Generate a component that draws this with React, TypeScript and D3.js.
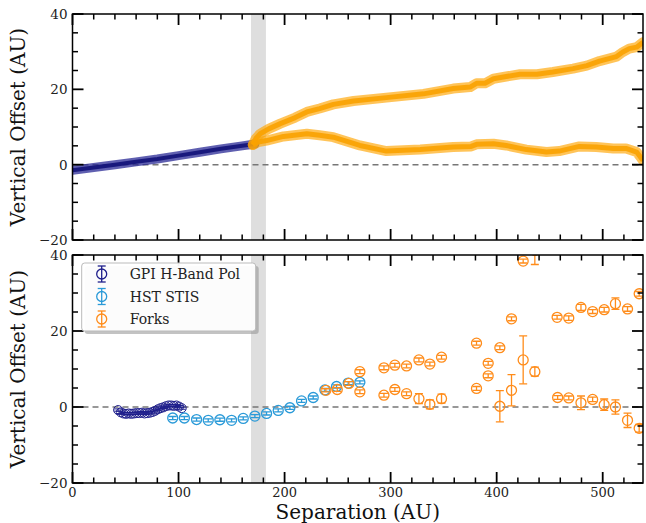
import React from "react";
import * as d3 from "d3";

// ---------- DATA ----------
const blueLineX = [0, 20, 40, 60, 80, 100, 120, 140, 160, 172];
const blueLineY = [-1.5, -0.75, 0.0, 0.75, 1.5, 2.4, 3.3, 4.2, 5.0, 5.5];

const forkUpperX = [170, 173, 177, 185, 196, 210, 221, 233, 246, 265, 296, 331, 359, 375, 381, 389, 397, 409, 422, 438, 453, 472, 485, 497, 513, 519, 525, 532, 538];
const forkUpperY = [5.3, 7.0, 8.2, 9.5, 10.9, 12.5, 14.0, 14.9, 16.0, 16.9, 17.8, 18.8, 20.2, 20.6, 21.6, 21.6, 22.8, 23.4, 24.0, 24.0, 24.6, 25.5, 26.3, 27.5, 28.7, 29.9, 30.8, 31.2, 32.5];

const forkLowerX = [170, 175, 183, 199, 221, 233, 246, 271, 296, 328, 359, 376, 381, 397, 409, 428, 447, 459, 478, 494, 510, 522, 532, 538];
const forkLowerY = [5.2, 6.0, 6.4, 7.5, 8.2, 7.8, 7.3, 5.1, 3.6, 4.0, 4.7, 4.85, 5.4, 5.57, 5.1, 4.0, 3.35, 3.6, 4.85, 4.7, 4.3, 4.3, 3.35, 1.1];

const gpiX = [43, 45.5, 48, 50.5, 53, 55.5, 58, 60.5, 63, 65.5, 68, 70.5, 73, 75.5, 78, 80.5, 83, 85.5, 88, 90.5, 93, 95.5, 98, 100.5, 103];
const gpiY = [-0.8, -1.4, -1.7, -1.8, -1.7, -1.8, -1.7, -1.6, -1.6, -1.5, -1.7, -1.6, -1.5, -1.3, -1.0, -0.6, -0.3, -0.1, 0.2, 0.4, 0.4, 0.3, 0.4, 0.1, -0.3];
const gpiErr = [0.3, 0.3, 0.3, 0.3, 0.3, 0.3, 0.3, 0.3, 0.3, 0.3, 0.3, 0.3, 0.3, 0.3, 0.3, 0.3, 0.3, 0.3, 0.3, 0.3, 0.3, 0.3, 0.3, 0.3, 0.3];

const stisX = [94.5, 105.5, 117, 128, 139, 150, 161, 172, 183, 194, 205, 216, 227, 238, 249, 260, 271];
const stisY = [-2.9, -2.9, -3.3, -3.5, -3.35, -3.5, -3.0, -2.4, -1.7, -0.9, -0.2, 1.6, 2.5, 4.5, 5.4, 6.3, 6.5];
const stisErr = [0.4, 0.4, 0.4, 0.4, 0.4, 0.4, 0.4, 0.4, 0.4, 0.4, 0.4, 0.4, 0.4, 0.4, 0.4, 0.4, 0.4];

const forksX = [239, 249.7, 260.7, 271, 271, 293.7, 293.7, 304, 304, 315, 315, 326.7, 326.7, 337, 337, 348, 348, 381, 381, 392, 392, 403, 403, 414, 414, 425, 425, 436, 436, 457, 457.5, 468, 468, 479.5, 479.5, 490.5, 490.5, 501.4, 501.4, 512, 512, 523.4, 523.4, 534.4, 534.4];
const forksY = [4.4, 4.6, 6.2, 9.3, 4.0, 10.3, 3.1, 11.0, 4.6, 10.8, 3.5, 12.4, 2.2, 11.3, 0.7, 13.1, 2.2, 16.8, 4.9, 11.5, 8.2, 15.6, 0.2, 23.2, 4.4, 38.4, 12.4, 41.2, 9.3, 23.6, 2.5, 23.4, 2.4, 26.2, 1.1, 25.1, 2.0, 25.6, 0.6, 27.2, 0.0, 25.8, -3.5, 29.8, -5.6];
const forksErr = [0.4, 0.5, 0.5, 0.5, 0.5, 0.5, 0.5, 0.5, 0.5, 0.5, 0.5, 0.5, 1.3, 0.5, 1.2, 0.5, 1.2, 0.5, 0.5, 0.5, 0.5, 0.5, 4.1, 0.5, 4.1, 0.5, 6.3, 3.7, 1.2, 0.5, 0.5, 0.6, 0.5, 0.8, 1.8, 0.5, 0.6, 0.6, 1.5, 1.5, 1.9, 0.6, 1.9, 0.6, 1.0];

const xTicksMajor = [0, 100, 200, 300, 400, 500];
const yTicksMajor = [-20, 0, 20, 40];
const bandRange = [168.3, 182.4];

const legendLabels = ["GPI H-Band Pol", "HST STIS", "Forks"];

// ---------- STYLE ----------
const W = 646, H = 523;
const L = 72.5, R = 643;
const top1 = 14, bot1 = 240, top2 = 255, bot2 = 483;
const FONT = '"DejaVu Serif", "Liberation Serif", serif';
const C_GPI = "#1f1f8c";
const C_STIS = "#2a9ad8";
const C_FORK = "#ff8c1a";

const x = d3.scaleLinear().domain([0, 538]).range([L, R]);
const yTop = d3.scaleLinear().domain([-20, 40]).range([bot1, top1]);
const yBot = d3.scaleLinear().domain([-20, 40]).range([bot2, top2]);

const fmt = (v: number) => (v < 0 ? "\u2212" + Math.abs(v) : String(v));
const txtStyle = (size: number) => ({ fontFamily: FONT, fontSize: size + "px" });

function Axes({ y, top, bot, showX }: { y: d3.ScaleLinear<number, number>; top: number; bot: number; showX: boolean }) {
  const xMinor = d3.range(0, 539, 20).filter((v) => v % 100 !== 0);
  const yMinor = d3.range(-20, 41, 5).filter((v) => v % 20 !== 0);
  const els: React.ReactNode[] = [];
  xTicksMajor.forEach((v, i) => {
    const px = x(v);
    els.push(<line key={"xb" + i} x1={px} x2={px} y1={bot} y2={bot - 11} stroke="#000" strokeWidth={1.8} />);
    els.push(<line key={"xt" + i} x1={px} x2={px} y1={top} y2={top + 11} stroke="#000" strokeWidth={1.8} />);
    if (showX)
      els.push(
        <text key={"xl" + i} x={px} y={bot + 14} textAnchor="middle" style={txtStyle(13)} fill="#222">
          {fmt(v)}
        </text>
      );
  });
  xMinor.forEach((v, i) => {
    const px = x(v);
    els.push(<line key={"xmb" + i} x1={px} x2={px} y1={bot} y2={bot - 5.5} stroke="#000" strokeWidth={1.5} />);
    els.push(<line key={"xmt" + i} x1={px} x2={px} y1={top} y2={top + 5.5} stroke="#000" strokeWidth={1.5} />);
  });
  yTicksMajor.forEach((v, i) => {
    const py = y(v);
    els.push(<line key={"yl" + i} x1={L} x2={L + 11} y1={py} y2={py} stroke="#000" strokeWidth={1.8} />);
    els.push(<line key={"yr" + i} x1={R} x2={R - 11} y1={py} y2={py} stroke="#000" strokeWidth={1.8} />);
    els.push(
      <text key={"ylab" + i} x={L - 5} y={py + 5} textAnchor="end" style={txtStyle(13.5)} fill="#222">
        {fmt(v)}
      </text>
    );
  });
  yMinor.forEach((v, i) => {
    const py = y(v);
    els.push(<line key={"yml" + i} x1={L} x2={L + 5.5} y1={py} y2={py} stroke="#000" strokeWidth={1.5} />);
    els.push(<line key={"ymr" + i} x1={R} x2={R - 5.5} y1={py} y2={py} stroke="#000" strokeWidth={1.5} />);
  });
  els.push(<rect key="frame" x={L} y={top} width={R - L} height={bot - top} fill="none" stroke="#000" strokeWidth={1.5} />);
  return <g>{els}</g>;
}

function ErrPoints({ xs, ys, es, y, color, r, sw }: { xs: number[]; ys: number[]; es: number[]; y: d3.ScaleLinear<number, number>; color: string; r: number; sw: number }) {
  return (
    <g stroke={color} strokeWidth={sw} fill="none">
      {xs.map((xv, i) => {
        const px = x(xv);
        const y1 = y(ys[i] - es[i]);
        const y2 = y(ys[i] + es[i]);
        return (
          <g key={i}>
            <line x1={px} x2={px} y1={y1} y2={y2} />
            <line x1={px - 4} x2={px + 4} y1={y1} y2={y1} />
            <line x1={px - 4} x2={px + 4} y1={y2} y2={y2} />
            <circle cx={px} cy={y(ys[i])} r={r} />
          </g>
        );
      })}
    </g>
  );
}

export default function App() {
  const line = (xs: number[], ys: number[], y: d3.ScaleLinear<number, number>) =>
    d3
      .line<number>()
      .x((_, i) => x(xs[i]))
      .y((v) => y(v))
      .curve(d3.curveLinear)(ys) || "";

  const blueP = line(blueLineX, blueLineY, yTop);
  const upP = line(forkUpperX, forkUpperY, yTop);
  const lowP = line(forkLowerX, forkLowerY, yTop);

  const legX = 81.7, legY = 263, legW = 174, legH = 68;
  const legendColors = [C_GPI, C_STIS, C_FORK];

  return (
    <svg width={W} height={H} style={{ position: "absolute", left: 0, top: 0, background: "#fff" }}>
      <defs>
        <clipPath id="c1">
          <rect x={L} y={top1} width={R - L} height={bot1 - top1} />
        </clipPath>
        <clipPath id="c2">
          <rect x={L} y={top2} width={R - L} height={bot2 - top2} />
        </clipPath>
      </defs>

      {/* TOP PANEL */}
      <g clipPath="url(#c1)">
        <rect x={x(bandRange[0])} y={top1} width={x(bandRange[1]) - x(bandRange[0])} height={bot1 - top1} fill="#dedede" />
        <line x1={L} x2={R} y1={yTop(0)} y2={yTop(0)} stroke="#777" strokeWidth={1.5} strokeDasharray="6,4" />
        <path d={blueP} stroke="#2a2a95" strokeOpacity={0.75} strokeWidth={9} fill="none" strokeLinejoin="round" strokeLinecap="round" />
        <path d={blueP} stroke="#15157a" strokeOpacity={0.95} strokeWidth={4} fill="none" strokeLinejoin="round" />
        {[upP, lowP].map((p, i) => (
          <g key={i}>
            <path d={p} stroke="#ffa500" strokeOpacity={0.65} strokeWidth={10} fill="none" strokeLinejoin="round" strokeLinecap="round" />
            <path d={p} stroke="#f9a200" strokeOpacity={0.9} strokeWidth={5} fill="none" strokeLinejoin="round" />
          </g>
        ))}
      </g>
      <Axes y={yTop} top={top1} bot={bot1} showX={false} />

      {/* BOTTOM PANEL */}
      <g clipPath="url(#c2)">
        <rect x={x(bandRange[0])} y={top2} width={x(bandRange[1]) - x(bandRange[0])} height={bot2 - top2} fill="#dedede" />
        <line x1={L} x2={R} y1={yBot(0)} y2={yBot(0)} stroke="#777" strokeWidth={1.5} strokeDasharray="6,4" />
        <ErrPoints xs={gpiX} ys={gpiY} es={gpiErr} y={yBot} color={C_GPI} r={4.5} sw={1.0} />
        <ErrPoints xs={stisX} ys={stisY} es={stisErr} y={yBot} color={C_STIS} r={5} sw={1.3} />
        <ErrPoints xs={forksX} ys={forksY} es={forksErr} y={yBot} color={C_FORK} r={5} sw={1.3} />
      </g>
      <Axes y={yBot} top={top2} bot={bot2} showX={true} />

      {/* LEGEND */}
      <rect x={legX + 3} y={legY + 3} width={legW} height={legH} rx={3} fill="#888" fillOpacity={0.5} />
      <rect x={legX} y={legY} width={legW} height={legH} rx={3} fill="#fff" fillOpacity={0.95} stroke="#bbb" strokeWidth={1} />
      {legendLabels.map((lab, i) => {
        const cy = legY + 11 + i * 22.5;
        const cx = legX + 20;
        const c = legendColors[i];
        return (
          <g key={lab}>
            <g stroke={c} strokeWidth={1.3} fill="none">
              <line x1={cx} x2={cx} y1={cy - 8} y2={cy + 8} />
              <line x1={cx - 4} x2={cx + 4} y1={cy - 8} y2={cy - 8} />
              <line x1={cx - 4} x2={cx + 4} y1={cy + 8} y2={cy + 8} />
              <circle cx={cx} cy={cy} r={5} />
            </g>
            <text x={legX + 48} y={cy + 5} style={txtStyle(14)} fill="#222">
              {lab}
            </text>
          </g>
        );
      })}

      {/* AXIS TITLES */}
      <text transform={`translate(25,${(top1 + bot1) / 2}) rotate(-90)`} textAnchor="middle" style={txtStyle(20)} fill="#111">
        Vertical Offset (AU)
      </text>
      <text transform={`translate(25,${(top2 + bot2) / 2}) rotate(-90)`} textAnchor="middle" style={txtStyle(20)} fill="#111">
        Vertical Offset (AU)
      </text>
      <text x={(L + R) / 2} y={519} textAnchor="middle" style={txtStyle(20)} fill="#111">
        Separation (AU)
      </text>
    </svg>
  );
}
